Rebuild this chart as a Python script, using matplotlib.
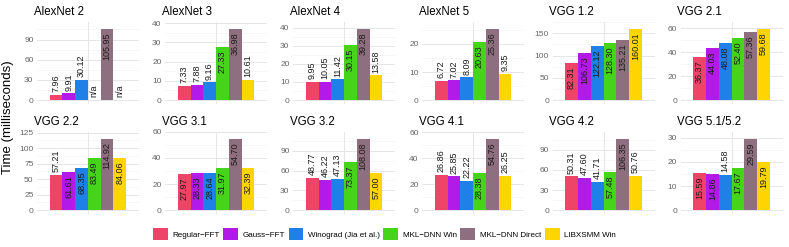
import numpy as np
import matplotlib
matplotlib.use('Agg')
import matplotlib.pyplot as plt
from matplotlib.patches import Patch

plt.rcParams['font.family'] = ['Liberation Sans', 'DejaVu Sans']

# --- Data ---
methods = ['Regular\u2212FFT', 'Gauss\u2212FFT', 'Winograd (Jia et al.)',
           'MKL\u2212DNN Win', 'MKL\u2212DNN Direct', 'LIBXSMM Win']
colors = ['#EE4468', '#B21AE8', '#1F80E8', '#46D41A', '#8E6F7F', '#FFD500']

layers = ['AlexNet 2', 'AlexNet 3', 'AlexNet 4', 'AlexNet 5', 'VGG 1.2', 'VGG 2.1',
          'VGG 2.2', 'VGG 3.1', 'VGG 3.2', 'VGG 4.1', 'VGG 4.2', 'VGG 5.1/5.2']

times = [
    [7.96, 9.91, 30.12, None, 105.95, None],
    [7.33, 7.88, 9.16, 27.33, 36.98, 10.61],
    [9.95, 10.05, 11.42, 30.15, 39.28, 13.58],
    [6.72, 7.02, 8.09, 20.63, 25.36, 9.35],
    [82.31, 106.73, 122.12, 128.30, 135.21, 160.01],
    [36.37, 44.03, 48.08, 52.40, 57.36, 59.68],
    [57.21, 61.61, 68.35, 83.49, 114.92, 84.06],
    [27.97, 28.33, 28.64, 31.97, 54.70, 32.39],
    [48.77, 46.22, 47.13, 73.37, 108.08, 57.00],
    [26.86, 25.85, 22.22, 28.38, 54.76, 26.25],
    [50.31, 47.60, 41.71, 57.48, 106.35, 50.76],
    [15.59, 14.86, 14.58, 17.67, 29.59, 19.79],
]

yticks = [
    [0, 30, 60, 90], [0, 10, 20, 30, 40], [0, 10, 20, 30, 40], [0, 10, 20],
    [0, 50, 100, 150], [0, 20, 40, 60],
    [0, 25, 50, 75, 100, 125], [0, 20, 40, 60], [0, 30, 60, 90], [0, 20, 40, 60],
    [0, 30, 60, 90], [0, 10, 20, 30],
]

# --- Layout (pixels) ---
W, H = 789, 247
fig = plt.figure(figsize=(W / 100, H / 100), dpi=100)

centers = [88, 216, 344, 473, 603.5, 731.5]
pw, ph = 102, 82
row_tops = [21.7, 131.7]

bar_w = 0.15
xs = 1 + (np.arange(6) - 2.5) * bar_w

for k, (name, vals) in enumerate(zip(layers, times)):
    r, c = divmod(k, 6)
    left = centers[c] - pw / 2
    bottom = H - (row_tops[r] + ph)
    ax = fig.add_axes([left / W, bottom / H, pw / W, ph / H])

    vmax = max(v for v in vals if v is not None)
    ax.set_xlim(0.4, 1.6)
    ax.set_ylim(-0.05 * vmax, 1.10 * vmax)

    # grid
    ticks = yticks[k]
    step = ticks[1] - ticks[0]
    minors = [t + step / 2 for t in ticks] + [ticks[0] - step / 2]
    for t in minors:
        ax.axhline(t, color='#F2F2F2', lw=0.4, zorder=0)
    for t in ticks:
        ax.axhline(t, color='#E6E6E6', lw=0.7, zorder=0)
    ax.axvline(1, color='#E6E6E6', lw=0.7, zorder=0)

    for i, v in enumerate(vals):
        if v is None:
            ax.annotate('n/a', (xs[i], 0), xytext=(0, 2.0), textcoords='offset points',
                        rotation=90, ha='center', va='bottom', fontsize=6.5, color='#1a1a1a')
            continue
        ax.bar(xs[i], v, width=bar_w, color=colors[i], zorder=2)
        lab = f'{v:.2f}'
        if v > 0.5 * vmax:
            ax.annotate(lab, (xs[i], v), xytext=(0, -2.5), textcoords='offset points',
                        rotation=90, ha='center', va='top', fontsize=6.5, color='#1a1a1a', zorder=3)
        else:
            ax.annotate(lab, (xs[i], v), xytext=(0, 2.0), textcoords='offset points',
                        rotation=90, ha='center', va='bottom', fontsize=6.5, color='#1a1a1a', zorder=3)

    ax.set_yticks(ticks)
    ax.set_xticks([])
    ax.tick_params(axis='y', length=0, pad=2.5, labelsize=6.0, labelcolor='#666666')
    for s in ax.spines.values():
        s.set_visible(False)
    ax.text(-0.03, 1 + 10 / ph, name, transform=ax.transAxes, ha='left', va='center',
            fontsize=8.3, color='black')

fig.text(8 / W, 1 - 117.6 / H, 'Time (milliseconds)', rotation=90, ha='center', va='center',
         fontsize=9.5, color='black')

handles = [Patch(facecolor=col, edgecolor='none') for col in colors]
fig.legend(handles, methods, loc='center', bbox_to_anchor=(0.487, 1 - 234 / H), ncol=6,
           frameon=False, fontsize=5.8, handlelength=1.85, handleheight=1.85,
           handletextpad=0.55, columnspacing=0.45, borderaxespad=0)

fig.savefig('out.png', dpi=100)
